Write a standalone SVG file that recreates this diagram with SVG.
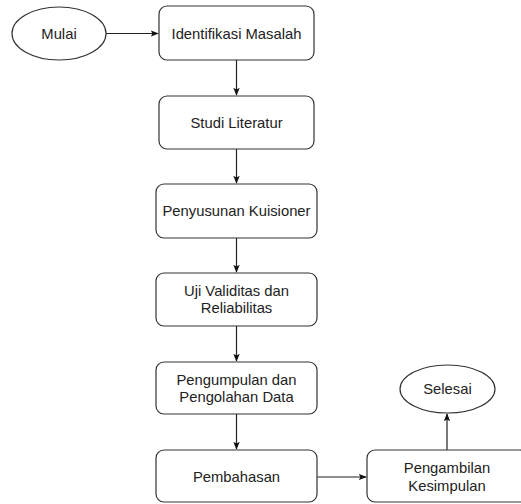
<svg xmlns="http://www.w3.org/2000/svg" width="521" height="504" viewBox="0 0 521 504">
<style>
.n{fill:#fff;stroke:#333;stroke-width:1.2}
.t{font-family:"Liberation Sans",Arial,sans-serif;font-size:14.8px;fill:#222;text-anchor:middle}
.c{fill:none;stroke:#222;stroke-width:1.2}
</style>
<defs>
<marker id="a" viewBox="0 0 10 10" refX="9" refY="5" markerWidth="8" markerHeight="8" markerUnits="userSpaceOnUse" orient="auto">
<path d="M0,1 L10,5 L0,9 L2,5 Z" fill="#111"/>
</marker>
</defs>
<rect width="521" height="504" fill="#fff"/>
<g id="connectors">
<path class="c" d="M106,33.5 H158" marker-end="url(#a)"/>
<path class="c" d="M236.5,60 V95" marker-end="url(#a)"/>
<path class="c" d="M236.5,149 V183" marker-end="url(#a)"/>
<path class="c" d="M236.5,238 V272" marker-end="url(#a)"/>
<path class="c" d="M236.5,326 V361" marker-end="url(#a)"/>
<path class="c" d="M236.5,414 V449" marker-end="url(#a)"/>
<path class="c" d="M317,477 H366" marker-end="url(#a)"/>
<path class="c" d="M447,450 V414" marker-end="url(#a)"/>
</g>
<g id="mulai">
<ellipse class="n" cx="59" cy="33.5" rx="47" ry="26.5"/>
<text class="t" x="59" y="38.5">Mulai</text>
</g>
<g id="identifikasi">
<rect class="n" x="159" y="6" width="155" height="54" rx="8"/>
<text class="t" x="236.5" y="38.5">Identifikasi Masalah</text>
</g>
<g id="studi">
<rect class="n" x="159" y="96" width="155" height="53" rx="8"/>
<text class="t" x="236.5" y="128">Studi Literatur</text>
</g>
<g id="penyusunan">
<rect class="n" x="156" y="184" width="161" height="54" rx="8"/>
<text class="t" x="236.5" y="216">Penyusunan Kuisioner</text>
</g>
<g id="uji">
<rect class="n" x="156" y="273" width="161" height="53" rx="8"/>
<text class="t" x="236.5" y="296">Uji Validitas dan</text>
<text class="t" x="236.5" y="313">Reliabilitas</text>
</g>
<g id="pengumpulan">
<rect class="n" x="156" y="362" width="161" height="52" rx="8"/>
<text class="t" x="236.5" y="384.5">Pengumpulan dan</text>
<text class="t" x="236.5" y="401.5">Pengolahan Data</text>
</g>
<g id="pembahasan">
<rect class="n" x="156" y="450" width="161" height="52" rx="8"/>
<text class="t" x="236.5" y="482">Pembahasan</text>
</g>
<g id="pengambilan">
<rect class="n" x="367" y="450" width="161" height="52" rx="8"/>
<text class="t" x="447" y="473">Pengambilan</text>
<text class="t" x="447" y="491">Kesimpulan</text>
</g>
<g id="selesai">
<ellipse class="n" cx="447.5" cy="389" rx="47.5" ry="24"/>
<text class="t" x="447.5" y="394">Selesai</text>
</g>
</svg>
